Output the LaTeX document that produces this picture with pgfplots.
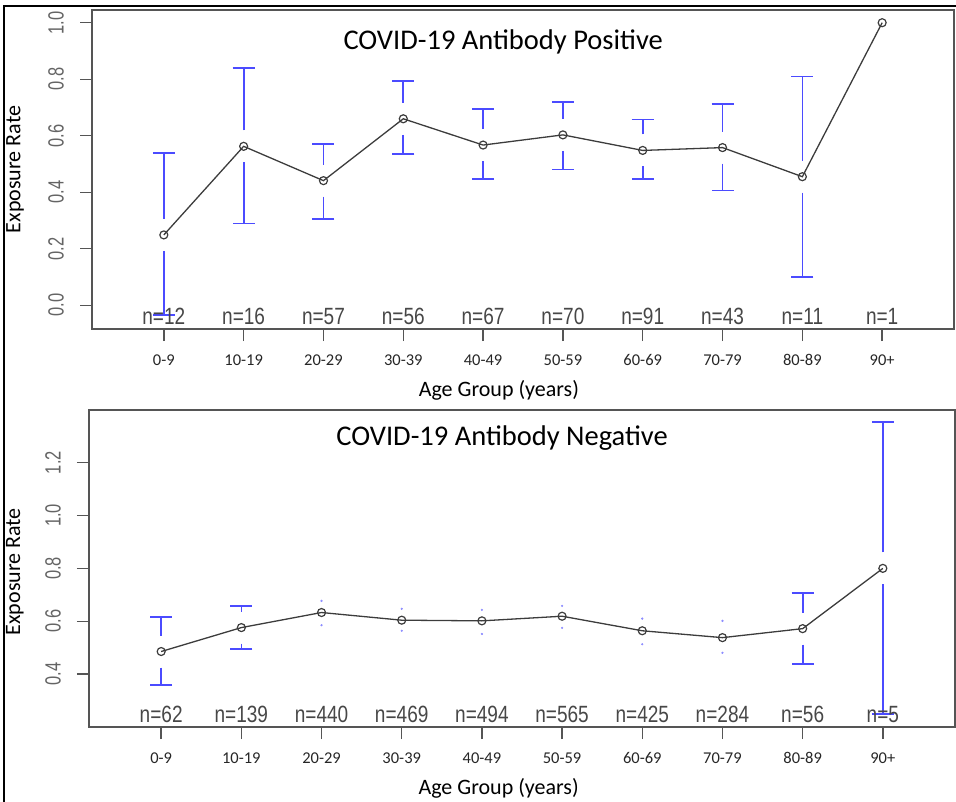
\documentclass[border=0pt]{standalone}
\usepackage{fontspec}
\setmainfont{Carlito}
\newfontfamily\rfont{Liberation Sans}
\usepackage{pgfplots}
\usepackage{pgfplotstable}
\pgfplotsset{compat=1.18}

\definecolor{barblue}{RGB}{75,75,255}
\definecolor{dotblue}{RGB}{140,140,255}
\definecolor{lineg}{RGB}{60,60,60}
\definecolor{axc}{RGB}{85,85,85}
\definecolor{tickc}{RGB}{100,100,100}

% x = age group (1 = 0-9 ... 10 = 90+), y = exposure rate, lo/hi = interval
\pgfplotstableread{
x y lo hi
1 0.249 -0.034 0.539
2 0.5625 0.289 0.840
3 0.441 0.306 0.571
4 0.660 0.535 0.793
5 0.567 0.446 0.695
6 0.603 0.481 0.720
7 0.548 0.446 0.658
8 0.558 0.406 0.713
9 0.455 0.101 0.809
10 1.000 nan nan
}\postab

\pgfplotstableread{
x y lo hi
1 0.4855 0.358 0.6155
2 0.576 0.496 0.658
3 0.633 0.585 0.677
4 0.604 0.564 0.647
5 0.6015 0.552 0.643
6 0.619 0.575 0.658
7 0.564 0.513 0.610
8 0.538 0.4805 0.6015
9 0.572 0.439 0.706
10 0.800 0.250 1.353
}\negtab

\def\gapA{0.0566}
\def\gapB{0.0605}

\tikzset{nlab/.style={font=\rfont\fontsize{23.5}{23.5}\selectfont, text=black!72}}

\pgfplotsset{
  rplot/.style={
    scale only axis, anchor=north west, clip=false,
    xmin=0.1, xmax=10.9,
    xtick={1,...,10},
    xticklabels={0-9,10-19,20-29,30-39,40-49,50-59,60-69,70-79,80-89,90+},
    xtick pos=bottom, ytick pos=left,
    tick align=outside, major tick length=12pt,
    tick style={axc, line width=1.4pt},
    axis line style={axc, line width=1.4pt},
    xticklabel style={font=\fontsize{16.5}{16.5}\selectfont, text=black!85, anchor=center},
    xticklabel shift=19pt,
    yticklabel style={font=\rfont\fontsize{22}{22}\selectfont, text=tickc, anchor=center, rotate=90},
    yticklabel shift=24pt,
    yticklabel={\scalebox{0.75}[1]{\pgfmathprintnumber[fixed,fixed zerofill,precision=1]{\tick}}},
    /pgf/number format/assume math mode=true,
    xlabel={Age Group (years)},
    ylabel={Exposure Rate},
    xlabel style={font=\fontsize{22}{22}\selectfont, anchor=center},
    ylabel style={font=\fontsize{22}{22}\selectfont, anchor=center},
  },
  upbar/.style={draw=none, mark=none,
    error bars/.cd, y dir=plus, y explicit,
    error bar style={draw=barblue, line width=1.7pt},
    error mark=|, error mark options={draw=barblue, line width=1.6pt, mark size=11pt},
    /pgfplots/.cd},
  lowbar/.style={draw=none, mark=none,
    error bars/.cd, y dir=minus, y explicit,
    error bar style={draw=barblue, line width=1.7pt},
    error mark=|, error mark options={draw=barblue, line width=1.6pt, mark size=11pt},
    /pgfplots/.cd},
  rline/.style={lineg, line width=1.3pt, mark=o, mark size=4pt,
    mark options={lineg, line width=1.2pt}},
}

\begin{document}
\begin{tikzpicture}
\useasboundingbox (0,0) rectangle (956pt,-802pt);
\draw[black, line width=2.2pt] (4pt,-802pt) -- (4pt,-6pt) -- (956pt,-6pt);

\begin{axis}[rplot, at={(92pt,-10pt)}, width=862pt, height=319pt,
  ymin=-0.084, ymax=1.045, ytick={0,0.2,...,1.0},
  xlabel style={at={(axis description cs:0.472,-0.191)}},
  ylabel style={at={(axis description cs:-0.0893,0.5)}}]
\addplot[upbar, skip coords between index={9}{10}] table[x=x, y expr=\thisrow{y}+\gapA, y error expr=\thisrow{hi}-\thisrow{y}-\gapA] {\postab};
\addplot[lowbar, skip coords between index={9}{10}] table[x=x, y expr=\thisrow{y}-\gapA, y error expr=\thisrow{y}-\gapA-\thisrow{lo}] {\postab};
\addplot[rline] table[x=x, y=y] {\postab};
\node[font=\fontsize{28.5}{28.5}\selectfont] at (rel axis cs:0.477,0.9) {COVID-19 Antibody Positive};
\node[nlab] at (axis cs:1,-0.040) {\scalebox{0.81}[1]{n=12}};
\node[nlab] at (axis cs:2,-0.040) {\scalebox{0.81}[1]{n=16}};
\node[nlab] at (axis cs:3,-0.040) {\scalebox{0.81}[1]{n=57}};
\node[nlab] at (axis cs:4,-0.040) {\scalebox{0.81}[1]{n=56}};
\node[nlab] at (axis cs:5,-0.040) {\scalebox{0.81}[1]{n=67}};
\node[nlab] at (axis cs:6,-0.040) {\scalebox{0.81}[1]{n=70}};
\node[nlab] at (axis cs:7,-0.040) {\scalebox{0.81}[1]{n=91}};
\node[nlab] at (axis cs:8,-0.040) {\scalebox{0.81}[1]{n=43}};
\node[nlab] at (axis cs:9,-0.040) {\scalebox{0.81}[1]{n=11}};
\node[nlab] at (axis cs:10,-0.040) {\scalebox{0.81}[1]{n=1}};
\end{axis}

\begin{axis}[rplot, at={(89pt,-410pt)}, width=866pt, height=317pt,
  ymin=0.2, ymax=1.399, ytick={0.4,0.6,...,1.2},
  xlabel style={at={(axis description cs:0.473,-0.192)}},
  ylabel style={at={(axis description cs:-0.0855,0.49)}}]
\addplot[upbar, skip coords between index={2}{8}] table[x=x, y expr=\thisrow{y}+\gapB, y error expr=\thisrow{hi}-\thisrow{y}-\gapB] {\negtab};
\addplot[lowbar, skip coords between index={2}{8}] table[x=x, y expr=\thisrow{y}-\gapB, y error expr=\thisrow{y}-\gapB-\thisrow{lo}] {\negtab};
\addplot[dotblue, only marks, mark=*, mark size=0.9pt, skip coords between index={0}{2}, skip coords between index={8}{10}] table[x=x, y=hi] {\negtab};
\addplot[dotblue, only marks, mark=*, mark size=0.9pt, skip coords between index={0}{2}, skip coords between index={8}{10}] table[x=x, y=lo] {\negtab};
\addplot[rline] table[x=x, y=y] {\negtab};
\node[font=\fontsize{28.5}{28.5}\selectfont] at (rel axis cs:0.477,0.912) {COVID-19 Antibody Negative};
\node[nlab] at (axis cs:1,0.246) {\scalebox{0.81}[1]{n=62}};
\node[nlab] at (axis cs:2,0.246) {\scalebox{0.81}[1]{n=139}};
\node[nlab] at (axis cs:3,0.246) {\scalebox{0.81}[1]{n=440}};
\node[nlab] at (axis cs:4,0.246) {\scalebox{0.81}[1]{n=469}};
\node[nlab] at (axis cs:5,0.246) {\scalebox{0.81}[1]{n=494}};
\node[nlab] at (axis cs:6,0.246) {\scalebox{0.81}[1]{n=565}};
\node[nlab] at (axis cs:7,0.246) {\scalebox{0.81}[1]{n=425}};
\node[nlab] at (axis cs:8,0.246) {\scalebox{0.81}[1]{n=284}};
\node[nlab] at (axis cs:9,0.246) {\scalebox{0.81}[1]{n=56}};
\node[nlab] at (axis cs:10,0.246) {\scalebox{0.81}[1]{n=5}};
\end{axis}
\end{tikzpicture}
\end{document}
